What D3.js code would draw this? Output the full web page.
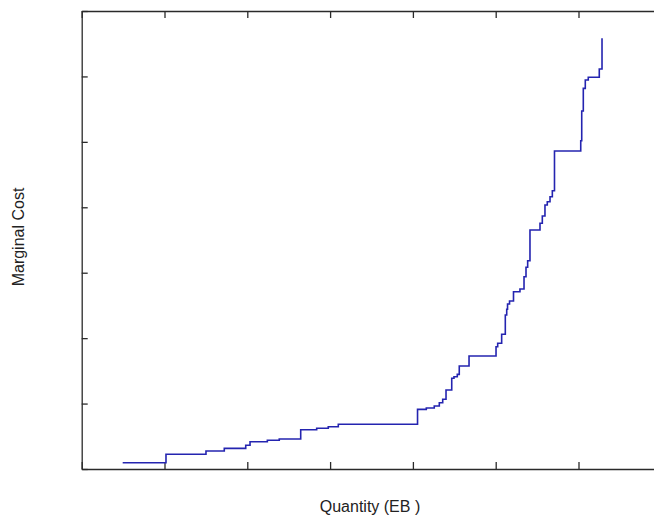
<!DOCTYPE html>
<html>
<head>
<meta charset="utf-8">
<script src="https://cdn.jsdelivr.net/npm/d3@7"></script>
<style>
  html, body { margin: 0; padding: 0; background: #fff; }
  svg { display: block; }
</style>
</head>
<body>
<svg id="chart" width="654" height="518"></svg>
<script>
// Step breakpoints (quantity in axis tick units) and marginal cost levels (tick units)
const quantity = [0.495, 1.018, 1.501, 1.722, 1.981, 2.033, 2.242, 2.386, 2.645, 2.838, 2.978, 3.099,
  4.056, 4.162, 4.258, 4.319, 4.360, 4.400, 4.469, 4.496, 4.536, 4.560, 4.678,
  5.004, 5.024, 5.072, 5.116, 5.133, 5.143, 5.167, 5.215, 5.293, 5.342, 5.366, 5.386, 5.414,
  5.535, 5.563, 5.595, 5.623, 5.656, 5.684, 5.710,
  6.027, 6.039, 6.058, 6.082, 6.118, 6.251, 6.284];
const marginalCost = [0.096, 0.225, 0.275, 0.316, 0.362, 0.417, 0.439, 0.459, 0.601, 0.622, 0.646, 0.685,
  0.912, 0.932, 0.963, 1.013, 1.065, 1.207, 1.386, 1.411, 1.447, 1.574, 1.727,
  1.869, 1.921, 2.059, 2.354, 2.441, 2.522, 2.568, 2.710, 2.751, 2.939, 3.083, 3.184, 3.653,
  3.755, 3.867, 4.035, 4.085, 4.162, 4.253, 4.860,
  5.018, 5.471, 5.818, 5.945, 5.987, 6.113, 6.583];
const xTicks = [0, 1, 2, 3, 4, 5, 6, 7];
const yTicks = [0, 1, 2, 3, 4, 5, 6, 7];

const svg = d3.select("#chart");
const mLeft = 81.7, mRight = 661.3, mTop = 11, mBottom = 469;

const x = d3.scaleLinear().domain([0, 7]).range([mLeft, mRight]);
const y = d3.scaleLinear().domain([0, 7]).range([mBottom, mTop]);

const axisColor = "#2a2a2a";

const gx = svg.append("g").attr("transform", `translate(0,${mBottom})`)
  .call(d3.axisBottom(x).tickValues(xTicks).tickSize(-7).tickSizeOuter(0).tickFormat(""));
const gxt = svg.append("g").attr("transform", `translate(0,${mTop})`)
  .call(d3.axisTop(x).tickValues(xTicks).tickSize(-7).tickSizeOuter(0).tickFormat(""));
const gy = svg.append("g").attr("transform", `translate(${mLeft},0)`)
  .call(d3.axisLeft(y).tickValues(yTicks).tickSize(-6).tickSizeOuter(0).tickFormat(""));

[gx, gxt, gy].forEach(g => {
  g.selectAll(".domain").attr("stroke", axisColor).attr("stroke-width", 1.3);
  g.selectAll(".tick line").attr("stroke", axisColor).attr("stroke-width", 1.3);
});

const pts = quantity.map((q, i) => [q, marginalCost[i]]);
const line = d3.line().x(d => x(d[0])).y(d => y(d[1])).curve(d3.curveStepAfter);
svg.append("path")
  .datum(pts)
  .attr("d", line)
  .attr("fill", "none")
  .attr("stroke", "#2424b0")
  .attr("stroke-width", 1.6);

svg.append("text")
  .attr("x", 370).attr("y", 512)
  .attr("text-anchor", "middle")
  .attr("font-family", "'Liberation Sans', Arial, sans-serif")
  .attr("font-size", 16)
  .attr("fill", "#222")
  .text("Quantity (EB )");

svg.append("text")
  .attr("transform", "translate(23.5,237) rotate(-90)")
  .attr("text-anchor", "middle")
  .attr("font-family", "'Liberation Sans', Arial, sans-serif")
  .attr("font-size", 16)
  .attr("fill", "#222")
  .text("Marginal Cost");
</script>
</body>
</html>
